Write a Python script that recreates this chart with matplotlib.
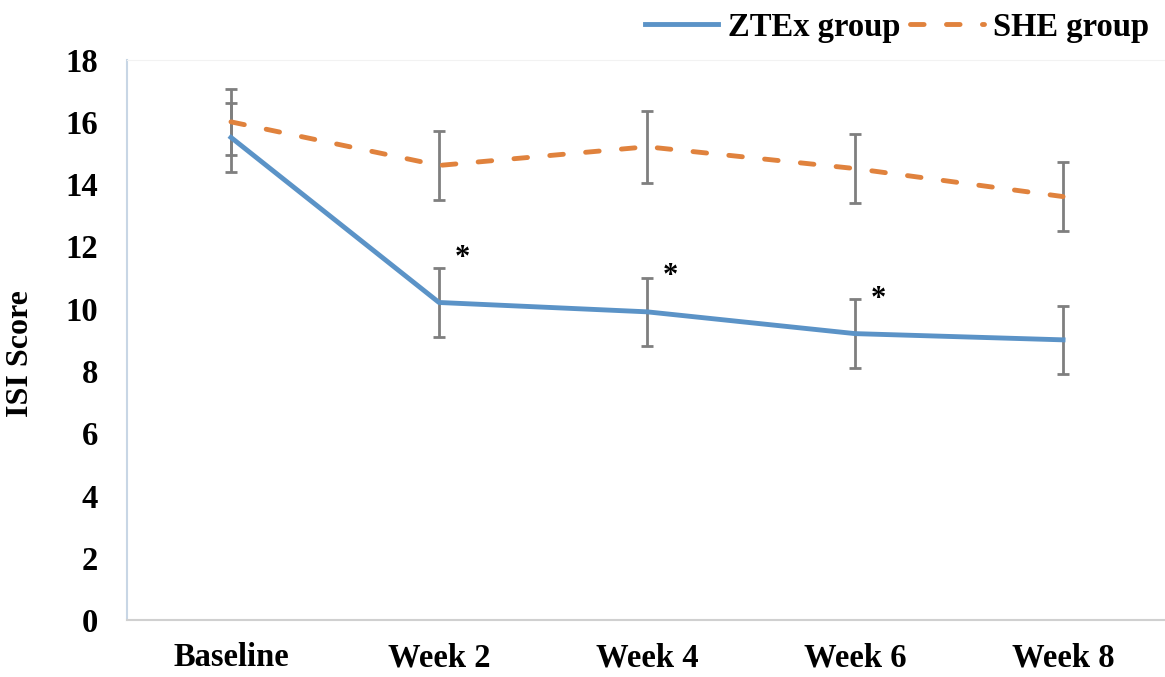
import numpy as np
import matplotlib.pyplot as plt

plt.rcParams['font.family'] = ['Liberation Serif', 'DejaVu Serif']
plt.rcParams['font.weight'] = 'bold'

etiquetas = ['Baseline', 'Week 2', 'Week 4', 'Week 6', 'Week 8']
ztex = [15.5, 10.2, 9.9, 9.2, 9.0]
ztex_err = [1.1, 1.1, 1.1, 1.1, 1.1]
she = [16.0, 14.6, 15.2, 14.5, 13.6]
she_err = [1.05, 1.1, 1.15, 1.1, 1.1]
# asteriscos de significancia (semana, altura)
sig_x = [1, 2, 3]
sig_y = [11.6, 11.05, 10.3]

x = np.arange(len(etiquetas))

fig = plt.figure(figsize=(11.65, 6.77), dpi=100)
ax = fig.add_axes([0.109, 0.084, 0.891, 0.828])

azul = '#5b93c7'
naranja = '#e0823d'
gris = '#7f7f7f'

ax.errorbar(x, ztex, yerr=ztex_err, color=azul, lw=3.5, ecolor=gris,
            elinewidth=2, capsize=4.5, capthick=2, label='ZTEx group', zorder=3)
eb = ax.errorbar(x, she, yerr=she_err, color=naranja, lw=3.5, ls=(0, (2.8, 4.6)),
                 ecolor=gris, elinewidth=2, capsize=4.5, capthick=2,
                 label='SHE group', zorder=3)
eb.lines[0].set_dash_capstyle('round')

for xi, yi in zip(sig_x, sig_y):
    ax.text(xi + 0.11, yi, '*', fontsize=22, ha='center', va='center',
            fontweight='bold')

ax.set_xlim(-0.5, 4.49)
ax.set_ylim(0, 18)
ax.set_yticks(np.arange(0, 19, 2))
ax.set_xticks(x)
ax.set_xticklabels(etiquetas)
ax.tick_params(axis='both', length=0, labelsize=23.5)
ax.tick_params(axis='y', pad=21)
ax.tick_params(axis='x', pad=16)
ax.set_ylabel('ISI Score', fontsize=23, fontweight='bold')
ax.yaxis.set_label_coords(-0.089, 0.475)

ax.spines['left'].set_color('#c8d6e5')
ax.spines['bottom'].set_color('#d0d0d0')
ax.spines['top'].set_color('#f2f2f2')
ax.spines['right'].set_visible(False)
for s in ['left', 'bottom']:
    ax.spines[s].set_linewidth(1.5)

handles, labels = ax.get_legend_handles_labels()
handles = [h[0] for h in handles]
fig.legend(handles, labels, loc='upper right', bbox_to_anchor=(1.012, 1.026),
           ncol=2, frameon=False, fontsize=23.5, handlelength=2.25,
           columnspacing=0.3, handletextpad=0.3)

plt.savefig('out.png', dpi=100)
plt.close()
